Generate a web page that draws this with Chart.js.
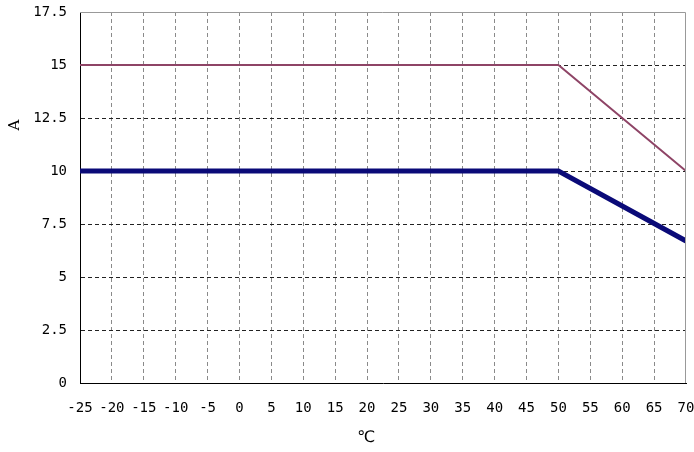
<!DOCTYPE html>
<html>
<head>
<meta charset="utf-8">
<script src="https://cdn.jsdelivr.net/npm/chart.js@4"></script>
<style>
  html, body { margin: 0; padding: 0; background: #fff; }
  #wrap { width: 694px; height: 452px; }
</style>
</head>
<body>
<div id="wrap"><canvas id="derating"></canvas></div>
<script>
// ---- data ----
const tempPoints = [-25, 50, 70];
const upperCurrent = [15, 15, 10];
const lowerCurrent = [10, 10, 6.7];
const xTicks = [-25, -20, -15, -10, -5, 0, 5, 10, 15, 20, 25, 30, 35, 40, 45, 50, 55, 60, 65, 70];
const yTicks = [0, 2.5, 5, 7.5, 10, 12.5, 15, 17.5];
const yTitle = "A";
const xTitle = "℃";

const toXY = vals => tempPoints.map((t, i) => ({ x: t, y: vals[i] }));
const tickFont = { family: "DejaVu Sans Mono", size: 14 };

// grey frame on top/right plus the two axis titles
const framePlugin = {
  id: "frame",
  afterDraw(chart) {
    const { ctx, chartArea } = chart;
    ctx.save();
    ctx.strokeStyle = "#999";
    ctx.lineWidth = 1;
    ctx.beginPath();
    ctx.moveTo(chartArea.left, chartArea.top + 0.5);
    ctx.lineTo(chartArea.right - 0.5, chartArea.top + 0.5);
    ctx.lineTo(chartArea.right - 0.5, chartArea.bottom);
    ctx.stroke();

    ctx.fillStyle = "#000";
    ctx.font = "15px 'DejaVu Serif'";
    ctx.textAlign = "center";
    ctx.textBaseline = "middle";
    ctx.translate(15, 125);
    ctx.rotate(-Math.PI / 2);
    ctx.fillText(yTitle, 0, 0);
    ctx.restore();

    ctx.save();
    ctx.fillStyle = "#000";
    ctx.font = "16px 'DejaVu Sans'";
    ctx.textAlign = "center";
    ctx.textBaseline = "middle";
    ctx.fillText(xTitle, 366, 438);
    ctx.restore();
  }
};

new Chart(document.getElementById("derating"), {
  type: "line",
  data: {
    datasets: [{
      data: toXY(upperCurrent),
      borderColor: "#8e4466",
      borderWidth: 2,
      pointRadius: 0,
      fill: false
    }, {
      data: toXY(lowerCurrent),
      borderColor: "#0a0a78",
      borderWidth: 5,
      pointRadius: 0,
      fill: false
    }]
  },
  options: {
    responsive: true,
    maintainAspectRatio: false,
    animation: false,
    layout: { padding: { top: 12, right: 8, left: 0, bottom: 0 } },
    plugins: { legend: { display: false }, tooltip: { enabled: false } },
    scales: {
      x: {
        type: "linear",
        min: -25,
        max: 70,
        afterBuildTicks: axis => { axis.ticks = xTicks.map(v => ({ value: v })); },
        afterFit: axis => { axis.height = 69; axis.paddingLeft = 0; axis.paddingRight = 0; },
        ticks: { font: tickFont, color: "#000", padding: 17, maxRotation: 0, autoSkip: false },
        grid: {
          drawTicks: false,
          color: ctx => (ctx.tick && (ctx.tick.value === -25 || ctx.tick.value === 70)) ? "rgba(0,0,0,0)" : "#8a8a8a",
          lineWidth: 1
        },
        border: { display: true, color: "#000", width: 1, dash: [4, 3] }
      },
      y: {
        min: 0,
        max: 17.5,
        afterBuildTicks: axis => { axis.ticks = yTicks.map(v => ({ value: v })); },
        afterFit: axis => { axis.width = 80; axis.paddingTop = 0; axis.paddingBottom = 0; },
        ticks: { font: tickFont, color: "#000", padding: 13 },
        grid: {
          drawTicks: false,
          color: ctx => (ctx.tick && (ctx.tick.value === 0 || ctx.tick.value === 17.5)) ? "rgba(0,0,0,0)" : "#222",
          lineWidth: 1
        },
        border: { display: true, color: "#000", width: 1, dash: [4, 3] }
      }
    }
  },
  plugins: [framePlugin]
});
</script>
</body>
</html>
